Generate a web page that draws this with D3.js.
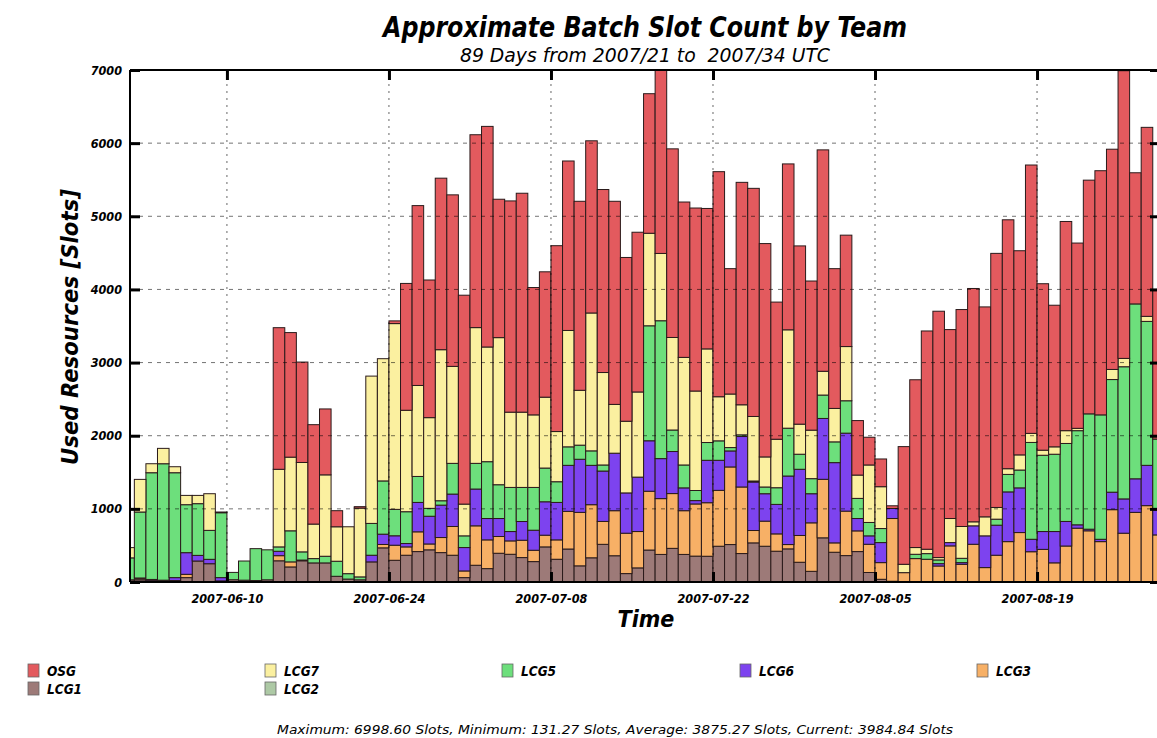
<!DOCTYPE html>
<html>
<head>
<meta charset="utf-8">
<script src="https://cdn.jsdelivr.net/npm/d3@7"></script>
<style>
  body { margin: 0; background: #fff; }
  svg { display: block; }
  text { font-family: "DejaVu Sans Condensed", "Liberation Sans Narrow", "DejaVu Sans", sans-serif; }
</style>
</head>
<body>
<svg id="chart" width="1157" height="738"></svg>
<script>
// ---- data: daily slot usage per team, 2007-06-01 .. 2007-08-29 ----
const firstDay = "2007-06-01";

const OSG = [
  0, 0, 0, 0, 0, 0, 0, 0, 0, 0,
  0, 0, 0, 1936, 1703, 1373, 1359, 901, 220, 0,
  20, 0, 0, 37, 1734, 2459, 1882, 2345, 2345, 2856,
  2637, 3016, 1892, 2888, 2993, 1741, 1714, 2541, 2317, 2584,
  2354, 2502, 2777, 2239, 2184, 1908, 2506.6, 2579, 2124, 2502,
  1920, 3077, 1714, 3041, 3119, 2917, 1875, 2268, 2437, 2039,
  3027, 1911, 1523, 745, 379, 379, 37, 1609, 2294, 2984,
  3368, 2583, 2966, 3190, 2870, 3474, 3403, 2791, 3669, 2276,
  1936, 2860, 2533, 3195, 3338, 3011, 3933, 1793, 2584, 2030.84
];
const LCG7 = [
  140, 446, 123, 210, 82, 127, 113, 501, 10, 0,
  0, 0, 0, 1061, 1007, 1222, 472, 1113, 471, 641,
  940, 2014, 1671, 2540, 1387, 1244, 1240, 2065, 1326, 434,
  1856, 1568, 2011, 1029, 1029, 992, 969, 686, 1591, 750,
  1885, 1264, 667, 980, 1164, 1265, 920, 1265, 1471, 1360,
  1280, 603, 732, 411, 882, 411, 663, 1345, 411, 663,
  325, 457, 741, 319, 786, 572, 0, 114, 92, 60,
  32, 329, 435, 55, 260, 160, 78, 207, 124, 69,
  101, 175, 32, 0, 0, 138, 114, 0, 69, 0
];
const LCG5 = [
  300, 902, 1459, 1592, 1434, 656, 707, 396, 887, 100,
  262, 436, 410, 60, 425, 112, 59, 91, 206, 74,
  40, 435, 728, 361, 435, 355, 108, 60, 420, 160,
  351, 777, 462, 603, 466, 585, 461, 283, 253, 193,
  198, 83, 0, 0, 0, 1572, 1885, 294, 313, 138,
  243, 266, 46, 23, 14, 92, 228, 654, 206, 206,
  320, 284, 443, 275, 183, 192, 0, 0, 59, 77,
  51, 0, 59, 0, 0, 82, 239, 244, 1324, 1043,
  1057, 1066, 1287, 1577, 1701, 1540, 1807, 2391, 1968, 965
];
const LCG6 = [
  0, 0, 10, 5, 40, 296, 77, 60, 45, 0,
  0, 0, 0, 60, 0, 10, 0, 0, 0, 0,
  0, 91, 141, 129, 46, 402, 379, 443, 443, 320,
  503, 292, 246, 128, 256, 274, 457, 512, 629, 726,
  538, 689, 786, 551, 744, 690, 547, 575, 312, 46,
  580, 411, 219, 690, 663, 375, 403, 937, 905, 398,
  832, 1097, 1066, 169, 115, 274, 137, 0, 0, 0,
  32, 45, 23, 252, 434, 411, 680, 611, 170, 244,
  428, 336, 46, 22, 32, 239, 469, 459, 551, 345
];
const LCG3 = [
  0, 15, 0, 0, 0, 45, 0, 0, 0, 0,
  0, 0, 0, 70, 69, 0, 0, 0, 0, 0,
  0, 0, 46, 206, 114, 270, 80, 206, 393, 91,
  539, 393, 229, 183, 237, 155, 160, 265, 515, 731,
  726, 313, 616, 552, 497, 804, 763, 749, 598, 713,
  732, 764, 1061, 910, 169, 343, 237, 59, 366, 663,
  800, 128, 608, 283, 386, 228, 858, 128, 320, 311,
  219, 494, 242, 516, 197, 366, 552, 676, 414, 446,
  262, 492, 736, 700, 552, 989, 667, 952, 1044, 644
];
const LCG1 = [
  20, 25, 15, 10, 10, 60, 287, 250, 5, 31.27,
  25, 20, 30, 290, 206, 290, 261, 261, 78, 40,
  30, 275, 467, 297, 366, 416, 440, 402, 366, 60,
  229, 183, 393, 379, 334, 279, 480, 311, 451, 221,
  331, 515, 359, 115, 193, 437, 377, 460, 377, 354,
  352, 489, 512, 389, 535, 489, 421, 453, 270, 146,
  604, 407, 361, 416, 130, 37, 10, 0, 0, 0,
  0, 0, 0, 0, 0, 0, 0, 0, 0, 0,
  0, 0, 0, 0, 0, 0, 0, 0, 0, 0
];
const LCG2 = [
  10, 15, 10, 10, 10, 0, 0, 0, 10, 0,
  0, 0, 0, 0, 0, 0, 0, 0, 0, 0,
  0, 0, 0, 0, 0, 0, 0, 0, 0, 0,
  0, 0, 0, 0, 0, 0, 0, 0, 0, 0,
  0, 0, 0, 0, 0, 0, 0, 0, 0, 0,
  0, 0, 0, 0, 0, 0, 0, 0, 0, 0,
  0, 0, 0, 0, 0, 0, 0, 0, 0, 0,
  0, 0, 0, 0, 0, 0, 0, 0, 0, 0,
  0, 0, 0, 0, 0, 0, 0, 0, 0, 0
];

// legend order (top of stack first) and colours
const legendOrder = ["OSG", "LCG7", "LCG5", "LCG6", "LCG3", "LCG1", "LCG2"];
const seriesValues = { OSG, LCG7, LCG5, LCG6, LCG3, LCG1, LCG2 };
const seriesColors = {
  OSG: "#e35a5e", LCG7: "#fbf0a0", LCG5: "#6ddf7c", LCG6: "#7d43ef",
  LCG3: "#f7b066", LCG1: "#9d7a78", LCG2: "#adc9a5"
};
const yTicks = [0, 1000, 2000, 3000, 4000, 5000, 6000, 7000];
const xTickDates = ["2007-06-10", "2007-06-24", "2007-07-08", "2007-07-22", "2007-08-05", "2007-08-19"];
const statsLine = "Maximum: 6998.60 Slots, Minimum: 131.27 Slots, Average: 3875.27 Slots, Current: 3984.84 Slots";

// ---- layout ----
const svg = d3.select("#chart");
const W = 1157, H = 738;
const plot = { left: 130, right: 1160, top: 70, bottom: 582 };

const parse = d3.utcParse("%Y-%m-%d");
const day0 = parse(firstDay);
const days = OSG.map((_, i) => d3.utcDay.offset(day0, i));

// stacking bottom -> top is the reverse of the legend order
const stackKeys = legendOrder.slice().reverse();
const rows = days.map((d, i) => {
  const r = { day: d };
  stackKeys.forEach(k => r[k] = seriesValues[k][i]);
  return r;
});
const stacked = d3.stack().keys(stackKeys)(rows);

const x = d3.scaleUtc()
  .domain([d3.utcHour.offset(day0, 15), d3.utcHour.offset(d3.utcDay.offset(day0, 89), 15)])
  .range([plot.left, plot.right]);
const y = d3.scaleLinear().domain([0, 7000]).range([plot.bottom, plot.top]);

svg.append("rect").attr("width", W).attr("height", H).attr("fill", "#fff");

svg.append("defs").append("clipPath").attr("id", "plotClip")
  .append("rect").attr("x", plot.left).attr("y", plot.top - 1)
  .attr("width", plot.right - plot.left).attr("height", plot.bottom - plot.top + 1);

// bars
const barG = svg.append("g").attr("clip-path", "url(#plotClip)");
stacked.forEach(layer => {
  barG.append("g")
    .attr("fill", seriesColors[layer.key])
    .attr("stroke", "#2a1a1a")
    .attr("stroke-width", 1)
    .selectAll("rect")
    .data(layer.filter(d => d[1] - d[0] > 0))
    .join("rect")
    .attr("x", d => x(d.data.day))
    .attr("width", d => x(d3.utcDay.offset(d.data.day, 1)) - x(d.data.day))
    .attr("y", d => y(d[1]))
    .attr("height", d => y(d[0]) - y(d[1]));
});

// grid (drawn over the bars)
const grid = svg.append("g").attr("clip-path", "url(#plotClip)");
grid.selectAll("line.h").data(yTicks.filter(v => v > 0 && v < 7000)).join("line")
  .attr("x1", plot.left).attr("x2", plot.right)
  .attr("y1", d => y(d)).attr("y2", d => y(d))
  .attr("stroke", "#000").attr("stroke-opacity", 0.55)
  .attr("stroke-dasharray", "4,5");
grid.selectAll("line.v").data(xTickDates.map(parse)).join("line")
  .attr("x1", d => x(d)).attr("x2", d => x(d))
  .attr("y1", plot.top).attr("y2", plot.bottom)
  .attr("stroke", "#000").attr("stroke-opacity", 0.6)
  .attr("stroke-dasharray", "2,5");

// frame
const frame = svg.append("g").attr("stroke", "#000").attr("stroke-width", 2);
frame.append("line").attr("x1", plot.left).attr("x2", plot.right).attr("y1", plot.top).attr("y2", plot.top);
frame.append("line").attr("x1", plot.left).attr("x2", plot.right).attr("y1", plot.bottom).attr("y2", plot.bottom);
frame.append("line").attr("x1", plot.left).attr("x2", plot.left).attr("y1", plot.top).attr("y2", plot.bottom);
frame.append("line").attr("x1", plot.right).attr("x2", plot.right).attr("y1", plot.top).attr("y2", plot.bottom);

const tickFont = sel => sel
  .style("font-size", "12.5px").style("font-weight", "bold").style("font-style", "italic")
  .attr("fill", "#000");

// y axis (ticks point inward)
const yAxis = svg.append("g").attr("transform", `translate(${plot.left},0)`)
  .call(d3.axisLeft(y).tickValues(yTicks).tickSize(-10).tickPadding(8).tickFormat(d3.format("d")));
yAxis.select(".domain").remove();
yAxis.selectAll(".tick line").attr("stroke", "#000").attr("stroke-width", 3);
yAxis.selectAll(".tick text").call(tickFont);

const yAxisR = svg.append("g").attr("transform", `translate(${plot.right},0)`)
  .call(d3.axisRight(y).tickValues(yTicks).tickSize(-10).tickFormat(""));
yAxisR.select(".domain").remove();
yAxisR.selectAll(".tick line").attr("stroke", "#000").attr("stroke-width", 3);

// x axis: ticks at bottom and top
const xAxis = svg.append("g").attr("transform", `translate(0,${plot.bottom})`)
  .call(d3.axisBottom(x).tickValues(xTickDates.map(parse)).tickSize(-10).tickPadding(12)
    .tickFormat(d3.utcFormat("%Y-%m-%d")));
xAxis.select(".domain").remove();
xAxis.selectAll(".tick line").attr("stroke", "#000").attr("stroke-width", 3);
xAxis.selectAll(".tick text").call(tickFont);

const xAxisTop = svg.append("g").attr("transform", `translate(0,${plot.top})`)
  .call(d3.axisTop(x).tickValues(xTickDates.map(parse)).tickSize(-10).tickFormat(""));
xAxisTop.select(".domain").remove();
xAxisTop.selectAll(".tick line").attr("stroke", "#000").attr("stroke-width", 3);

// titles
svg.append("text").attr("x", 645).attr("y", 37).attr("text-anchor", "middle")
  .attr("textLength", 524).attr("lengthAdjust", "spacingAndGlyphs")
  .style("font-size", "28px").style("font-weight", "bold").style("font-style", "italic")
  .text("Approximate Batch Slot Count by Team");
svg.append("text").attr("x", 645).attr("y", 62).attr("text-anchor", "middle")
  .attr("textLength", 370).attr("lengthAdjust", "spacingAndGlyphs")
  .attr("xml:space", "preserve")
  .style("font-size", "19px").style("font-style", "italic")
  .text("89 Days from 2007/21 to  2007/34 UTC");
svg.append("text").attr("transform", "translate(78,327) rotate(-90)").attr("text-anchor", "middle")
  .attr("textLength", 276).attr("lengthAdjust", "spacingAndGlyphs")
  .style("font-size", "23px").style("font-weight", "bold").style("font-style", "italic")
  .text("Used Resources [Slots]");
svg.append("text").attr("x", 646).attr("y", 627).attr("text-anchor", "middle")
  .style("font-size", "23px").style("font-weight", "bold").style("font-style", "italic")
  .text("Time");

// legend
const legendPos = {
  OSG: [28, 671], LCG7: [265, 671], LCG5: [502, 671], LCG6: [740, 671], LCG3: [977, 671],
  LCG1: [28, 689], LCG2: [265, 689]
};
const legend = svg.append("g");
legendOrder.forEach(k => {
  const [lx, ly] = legendPos[k];
  legend.append("rect").attr("x", lx).attr("y", ly - 7).attr("width", 11).attr("height", 13)
    .attr("fill", seriesColors[k]).attr("stroke", "#666").attr("stroke-width", 0.8);
  legend.append("text").attr("x", lx + 19).attr("y", ly + 5)
    .style("font-size", "13.5px").style("font-style", "italic").style("font-weight", "bold")
    .text(k);
});

// summary line
svg.append("text").attr("x", 615).attr("y", 734).attr("text-anchor", "middle")
  .attr("textLength", 676).attr("lengthAdjust", "spacingAndGlyphs")
  .style("font-size", "13px").style("font-style", "italic")
  .text(statsLine);
</script>
</body>
</html>
